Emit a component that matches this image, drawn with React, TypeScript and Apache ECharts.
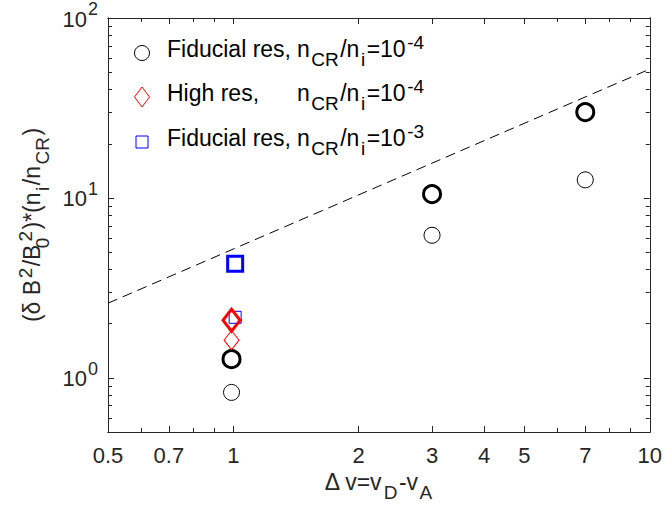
import React, { useEffect, useRef } from "react";
import * as echarts from "echarts";

// ---------------- data ----------------
const xTickLabels = [0.5, 0.7, 1, 2, 3, 4, 5, 7, 10];
const xMinorTicks = [0.6, 0.8, 0.9, 6, 8, 9];
const yTickLabels = [1, 10, 100];
const yMinorTicks = [0.5, 0.6, 0.7, 0.8, 0.9, 2, 3, 4, 5, 6, 7, 8, 9, 20, 30, 40, 50, 60, 70, 80, 90];
const xLimits = [0.5, 10];
const yLimits = [0.5, 100];

const fiducialX = [0.99, 3, 7];
const fiducialThinY = [0.83, 6.2, 12.6];
const fiducialBoldY = [1.27, 10.5, 30];
const highResX = [0.99];
const highResThinY = [1.62];
const highResBoldY = [2.09];
const fid3X = [1.01];
const fid3ThinY = [2.17];
const fid3BoldY = [4.3];
const fitX = [0.5, 10];
const fitY = [2.6, 52];

const legendLabels = ["Fiducial res,", "High res,", "Fiducial res,"];
const legendExponents = ["-4", "-4", "-3"];

// ---------------- helpers ----------------
const L = (v: number) => Math.log10(v);
const pts = (xs: number[], ys: number[]) => xs.map((x, i) => [L(x), L(ys[i])]);

const FONT = "'Liberation Sans', Arial, Helvetica, sans-serif";
const AX = "#262626";
const FS = 23;
const SFS = 19;
const TFS = 22;

const rich = (color: string) => ({
  m: { fontSize: FS, lineHeight: FS + 2, padding: [0, 0, 8, 0], verticalAlign: "bottom", fontFamily: FONT, color },
  w: { fontSize: FS, lineHeight: FS + 2, padding: [0, 0, 8, 0], verticalAlign: "bottom", fontFamily: FONT, color, width: 130 },
  s: { fontSize: SFS, lineHeight: SFS + 2, padding: [0, 1.5, 0, 1.5], verticalAlign: "bottom", fontFamily: FONT, color },
  z: { fontSize: SFS, lineHeight: SFS + 2, padding: [0, 0, 0, 1.5], verticalAlign: "bottom", fontFamily: FONT, color, width: 0 },
  p: { fontSize: SFS, lineHeight: SFS + 2, padding: [0, 1.5, 17, 1.5], verticalAlign: "bottom", fontFamily: FONT, color },
});

const tickRich = {
  tb: { fontSize: TFS, lineHeight: TFS + 2, verticalAlign: "bottom", fontFamily: FONT, color: AX },
  tp: { fontSize: SFS - 1, lineHeight: SFS + 1, padding: [0, 0, 12, 1], verticalAlign: "bottom", fontFamily: FONT, color: AX },
};

function xAxisDef(position: string, values: number[], len: number, main: boolean) {
  return {
    type: "value",
    position,
    min: L(xLimits[0]),
    max: L(xLimits[1]),
    axisLine: { show: true, onZero: false, lineStyle: { color: AX, width: 1 } },
    axisTick: { show: true, inside: true, length: len, customValues: values.map(L), lineStyle: { color: AX, width: 1 } },
    axisLabel: main
      ? {
          show: true,
          customValues: values.map(L),
          margin: 12,
          fontSize: TFS,
          fontFamily: FONT,
          color: AX,
          formatter: (v: number) => String(Number(Math.pow(10, v).toPrecision(2))),
        }
      : { show: false },
    splitLine: { show: false },
    ...(main && position === "bottom"
      ? {
          name: "{m|\u0394 v=v}{s|D}{m|-v}{s|A}",
          nameLocation: "middle",
          nameGap: 38,
          nameTextStyle: { rich: rich(AX) },
        }
      : {}),
  };
}

function yAxisDef(position: string, values: number[], len: number, main: boolean) {
  return {
    type: "value",
    position,
    min: L(yLimits[0]),
    max: L(yLimits[1]),
    axisLine: { show: true, onZero: false, lineStyle: { color: AX, width: 1 } },
    axisTick: { show: true, inside: true, length: len, customValues: values.map(L), lineStyle: { color: AX, width: 1 } },
    axisLabel: main
      ? {
          show: true,
          customValues: values.map(L),
          margin: 10,
          formatter: (v: number) => `{tb|10}{tp|${Math.round(v)}}`,
          rich: tickRich,
        }
      : { show: false },
    splitLine: { show: false },
    ...(main && position === "left"
      ? {
          name: "{m|(\u03b4 B}{p|2}{m|/B}{z|0}{p|2}{m|)*(n}{s|i}{m|/n}{s|CR}{m|)}",
          nameLocation: "middle",
          nameGap: 52,
          nameRotate: 90,
          nameTextStyle: { rich: rich(AX) },
        }
      : {}),
  };
}

function scatter(name: string, data: number[][], symbol: string, size: any, color: string, width: number, z: number) {
  return {
    type: "scatter",
    name,
    data,
    symbol,
    symbolSize: size,
    z,
    xAxisIndex: 0,
    yAxisIndex: 0,
    itemStyle: { color: "rgba(0,0,0,0)", borderColor: color, borderWidth: width, opacity: 1 },
    emphasis: { disabled: true },
  };
}

const legendRows = [0, 1, 2];
const rowY = [53, 97, 142];
const markX = 142;
const textX = 167;

function legendGraphic() {
  const g: any[] = [];
  g.push({ type: "circle", shape: { cx: markX, cy: rowY[0], r: 7.5 }, style: { fill: "none", stroke: "#000", lineWidth: 1 } });
  g.push({
    type: "polygon",
    shape: { points: [[markX, rowY[1] - 10], [markX + 7.5, rowY[1]], [markX, rowY[1] + 10], [markX - 7.5, rowY[1]]] },
    style: { fill: "none", stroke: "#ff0000", lineWidth: 1 },
  });
  g.push({ type: "rect", shape: { x: markX - 6, y: rowY[2] - 6, width: 12, height: 12 }, style: { fill: "none", stroke: "#0000ff", lineWidth: 1 } });
  legendRows.forEach((i) => {
    g.push({
      type: "text",
      x: textX,
      y: rowY[i] + 3,
      style: {
        text: `{w|${legendLabels[i]}}{m|n}{s|CR}{m|/n}{s|i}{m|=10}{p|${legendExponents[i]}}`,
        rich: rich("#000"),
        verticalAlign: "middle",
        align: "left",
        fill: "#000",
      },
    });
  });
  return g;
}

export default function App() {
  const ref = useRef<HTMLDivElement>(null);
  useEffect(() => {
    const chart = echarts.init(ref.current!, null, { renderer: "svg" });
    const option: any = {
      animation: false,
      backgroundColor: "#ffffff",
      grid: { left: 108, right: 14, top: 16, bottom: 76, containLabel: false },
      xAxis: [
        xAxisDef("bottom", xTickLabels, 6, true),
        xAxisDef("bottom", xMinorTicks, 4, false),
        xAxisDef("top", xTickLabels, 6, false),
        xAxisDef("top", xMinorTicks, 4, false),
      ],
      yAxis: [
        yAxisDef("left", yTickLabels, 6, true),
        yAxisDef("left", yMinorTicks, 4, false),
        yAxisDef("right", yTickLabels, 6, false),
        yAxisDef("right", yMinorTicks, 4, false),
      ],
      series: [
        {
          type: "line",
          name: "fit",
          data: pts(fitX, fitY),
          symbol: "none",
          lineStyle: { color: "#000", width: 1, type: [10, 6] },
          z: 1,
          silent: true,
        },
        scatter("Fiducial res, nCR/ni=1e-4", pts(fiducialX, fiducialThinY), "circle", 16, "#000", 1, 2),
        scatter("Fiducial res, nCR/ni=1e-4 (bold)", pts(fiducialX, fiducialBoldY), "circle", 17, "#000", 3, 3),
        scatter("Fiducial res, nCR/ni=1e-3", pts(fid3X, fid3ThinY), "rect", 12, "#0000ff", 1, 4),
        scatter("High res, nCR/ni=1e-4", pts(highResX, highResThinY), "diamond", [15, 19], "#ff0000", 1, 5),
        scatter("High res, nCR/ni=1e-4 (bold)", pts(highResX, highResBoldY), "diamond", [17, 22], "#ff0000", 3, 6),
        scatter("Fiducial res, nCR/ni=1e-3 (bold)", pts(fid3X, fid3BoldY), "rect", 15, "#0000ff", 3, 7),
      ],
      graphic: legendGraphic(),
    };
    chart.setOption(option);
    return () => chart.dispose();
  }, []);
  return (
    <div
      ref={ref}
      style={{ position: "fixed", left: 0, top: 0, width: 665, height: 508, background: "#fff" }}
    />
  );
}
